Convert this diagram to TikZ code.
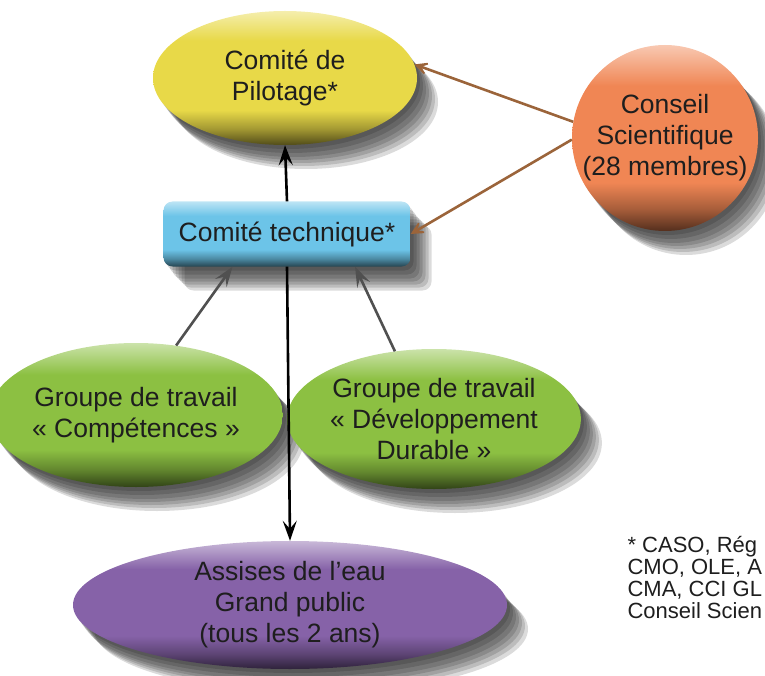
\documentclass[tikz,border=0pt]{standalone}
\usepackage{fontspec}
\setmainfont{Liberation Sans}
\usetikzlibrary{shapes.geometric,arrows.meta,calc}

\definecolor{pilotcol}{RGB}{232,217,72}
\definecolor{techcol}{RGB}{108,196,232}
\definecolor{conseilcol}{RGB}{240,134,84}
\definecolor{groupcol}{RGB}{140,192,66}
\definecolor{assisecol}{RGB}{134,98,168}
\definecolor{textgray}{RGB}{30,30,30}
\definecolor{arrgray}{RGB}{80,80,80}
\definecolor{arrbrown}{RGB}{155,100,58}

% glossy vertical shading: dark rim at the bottom, light at the top
\newcommand\glossy[2]{%
  \pgfdeclareverticalshading{#1}{100bp}{color(0bp)=(#2!35!black); color(25bp)=(#2!35!black);
    color(31bp)=(#2!70!black); color(38bp)=(#2); color(64bp)=(#2); color(75bp)=(#2!45!white);
    color(100bp)=(#2!45!white)}}
\glossy{pilotshade}{pilotcol}
\glossy{techshade}{techcol}
\glossy{conseilshade}{conseilcol}
\glossy{groupshade}{groupcol}
\glossy{assiseshade}{assisecol}

\begin{document}
\begin{tikzpicture}[x=1pt,y=-1pt,
    every node/.style={text=textgray, align=center, font=\fontsize{26.5}{31}\selectfont},
    shadowstep/.style={preaction={fill=black, opacity=.14, transform canvas={shift={(#1)}}}},
    softshadow/.style={shadowstep={3pt,-4pt}, shadowstep={6pt,-8pt}, shadowstep={9pt,-12pt},
      shadowstep={12pt,-15pt}, shadowstep={15pt,-18pt}, shadowstep={18pt,-21pt}, shadowstep={21pt,-24pt}},
    bubble/.style={ellipse, inner sep=0pt, softshadow},
    blackline/.style={line width=2.6pt, -{Stealth[length=20pt,width=14pt,inset=8pt]}},
    grayline/.style={line width=2.6pt, draw=arrgray, -{Stealth[length=20pt,width=14pt,inset=8pt]}},
    brownline/.style={line width=2.6pt, draw=arrbrown, -{Stealth[length=20pt,width=20pt,inset=13pt]}}]
  \useasboundingbox (0,0) rectangle (765,676);
  \clip (0,0) rectangle (765,676);

  \node[bubble, shading=pilotshade, minimum width=264pt, minimum height=134pt] (pilot) at (285,78) {Comité de\\Pilotage*};
  \node[rectangle, rounded corners=9pt, softshadow, shading=techshade, minimum width=247pt, minimum height=65pt] (tech) at (287,234) {Comité technique*};
  \node[circle, inner sep=0pt, softshadow, shading=conseilshade, minimum size=186pt] (conseil) at (665,138) {Conseil\\Scientifique\\(28 membres)};
  \node[bubble, shading=groupshade, minimum width=250pt, minimum height=144pt] (grpA) at (136,415) {Groupe de travail\\« Compétences »};
  \node[bubble, shading=groupshade, minimum width=265pt, minimum height=140pt] (grpB) at (434,419) {Groupe de travail\\« Développement\\Durable »};
  \node[bubble, shading=assiseshade, minimum width=434pt, minimum height=128pt] (assises) at (290,605) {Assises de l’eau\\Grand public\\(tous les 2 ans)};

  \node[anchor=north west, align=left, font=\fontsize{22}{22}\selectfont] (note) at (624,533) {* CASO, Rég\\CMO, OLE, A\\CMA, CCI GL\\Conseil Scien};

  \draw[blackline] (tech.north) -- (pilot.south);
  \draw[blackline] (tech.south) -- (assises.north);
  \draw[grayline] (grpA.60) -- ($(tech.south)!0.44!(tech.south west)$);
  \draw[grayline] (grpB.120) -- ($(tech.south)!0.55!(tech.south east)$);
  \draw[brownline] (conseil.170) -- (pilot.6);
  \draw[brownline] (conseil.181) -- (tech.east);
\end{tikzpicture}
\end{document}
